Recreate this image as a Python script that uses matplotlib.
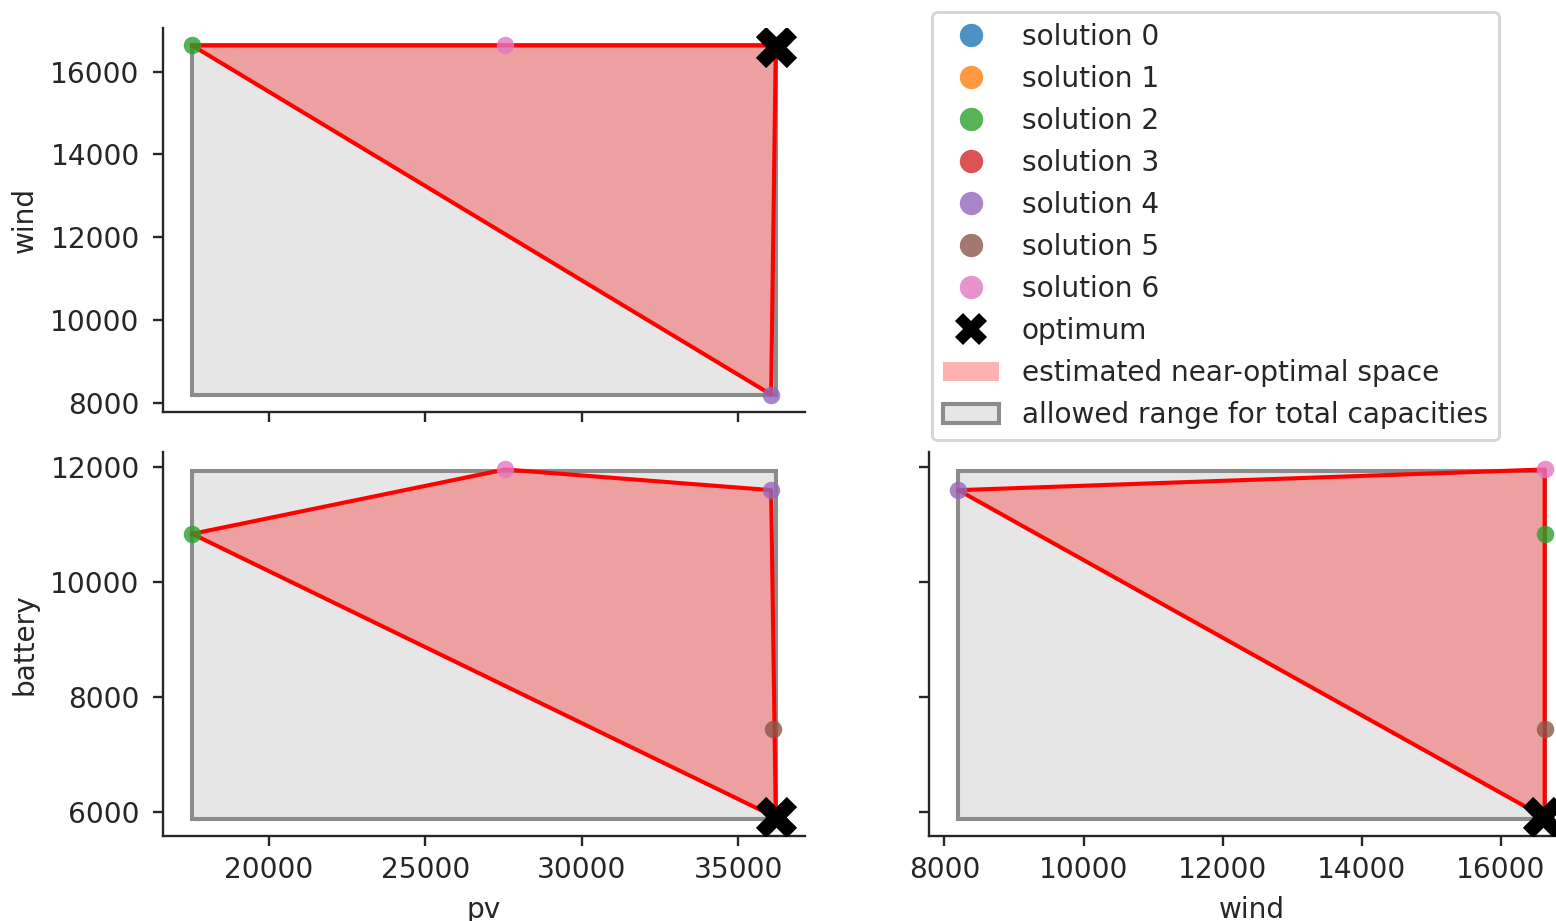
import matplotlib
matplotlib.use("Agg")
import matplotlib.pyplot as plt
from matplotlib.patches import Rectangle, Patch
from matplotlib.lines import Line2D

# groesse des bildes in pixel
W, H, DPI = 1556, 921, 210

# daten: installierte kapazitaeten je loesung
labels = ["solution 0", "solution 1", "solution 2", "solution 3",
          "solution 4", "solution 5", "solution 6"]
pv = [36200, 36200, 17550, 36200, 36050, 36100, 27550]
wind = [16630, 16630, 16630, 16630, 8200, 16630, 16630]
battery = [5900, 5900, 10830, 5900, 11590, 7430, 11950]

# optimum
opt_pv, opt_wind, opt_battery = 36200, 16600, 5900

# erlaubter bereich fuer die gesamtkapazitaeten
pv_range = [17550, 36200]
wind_range = [8200, 16630]
battery_range = [5880, 11930]

data = {"pv": pv, "wind": wind, "battery": battery}
opt = {"pv": opt_pv, "wind": opt_wind, "battery": opt_battery}
ranges = {"pv": pv_range, "wind": wind_range, "battery": battery_range}


def hull(points):
    # konvexe huelle (monotone chain)
    pts = sorted(set(points))
    if len(pts) < 3:
        return pts

    def cross(o, a, b):
        return (a[0] - o[0]) * (b[1] - o[1]) - (a[1] - o[1]) * (b[0] - o[0])

    lower = []
    for p in pts:
        while len(lower) >= 2 and cross(lower[-2], lower[-1], p) <= 0:
            lower.pop()
        lower.append(p)
    upper = []
    for p in reversed(pts):
        while len(upper) >= 2 and cross(upper[-2], upper[-1], p) <= 0:
            upper.pop()
        upper.append(p)
    return lower[:-1] + upper[:-1]


plt.rcParams["font.size"] = 9.6
plt.rcParams["text.color"] = "0.15"
plt.rcParams["axes.labelcolor"] = "0.15"
plt.rcParams["xtick.color"] = "0.15"
plt.rcParams["ytick.color"] = "0.15"
plt.rcParams["axes.edgecolor"] = "0.15"
plt.rcParams["axes.spines.top"] = False
plt.rcParams["axes.spines.right"] = False
plt.rcParams["ytick.major.pad"] = 4.5

fig = plt.figure(figsize=(W / DPI, H / DPI), dpi=DPI)


def box(l, t, r, b):
    return [l / W, 1 - b / H, (r - l) / W, (b - t) / H]


ax_tl = fig.add_axes(box(163, 28, 805, 412))
ax_bl = fig.add_axes(box(163, 452, 805, 836), sharex=ax_tl)
ax_br = fig.add_axes(box(929, 452, 1574, 836), sharey=ax_bl)

panels = [(ax_tl, "pv", "wind"), (ax_bl, "pv", "battery"), (ax_br, "wind", "battery")]

for ax, xk, yk in panels:
    xr, yr = ranges[xk], ranges[yk]
    ax.add_patch(Rectangle((xr[0], yr[0]), xr[1] - xr[0], yr[1] - yr[0],
                           facecolor="#e6e6e6", edgecolor="#8c8c8c", lw=1.4, zorder=1))
    h = hull(list(zip(data[xk], data[yk])))
    hx = [p[0] for p in h]
    hy = [p[1] for p in h]
    ax.fill(hx, hy, color="red", alpha=0.3, lw=0, zorder=2)
    ax.plot(hx + hx[:1], hy + hy[:1], color="red", lw=1.4, zorder=3)
    for i, lab in enumerate(labels):
        ax.scatter(data[xk][i], data[yk][i], color="C%d" % i, alpha=0.8,
                   s=36, lw=0, zorder=4)
    ax.scatter(opt[xk], opt[yk], marker="X", color="black", s=200, lw=0, zorder=5)

ax_tl.tick_params(labelbottom=False)
ax_br.tick_params(labelleft=False)
ax_tl.set_ylabel("wind")
ax_bl.set_ylabel("battery")
ax_bl.set_xlabel("pv")
ax_br.set_xlabel("wind")

handles = [Line2D([], [], ls="", marker="o", color="C%d" % i, alpha=0.8, ms=8, mew=0)
           for i in range(len(labels))]
handles.append(Line2D([], [], ls="", marker="X", color="black", ms=11, mew=0))
handles.append(Patch(facecolor="red", alpha=0.3, lw=0))
handles.append(Patch(facecolor="#e6e6e6", edgecolor="#8c8c8c", lw=1.4))
names = labels + ["optimum", "estimated near-optimal space",
                  "allowed range for total capacities"]
fig.legend(handles, names, loc="upper left", bbox_to_anchor=(932 / W, 1 - 12 / H),
           borderaxespad=0)

fig.savefig("out.png", dpi=DPI)
